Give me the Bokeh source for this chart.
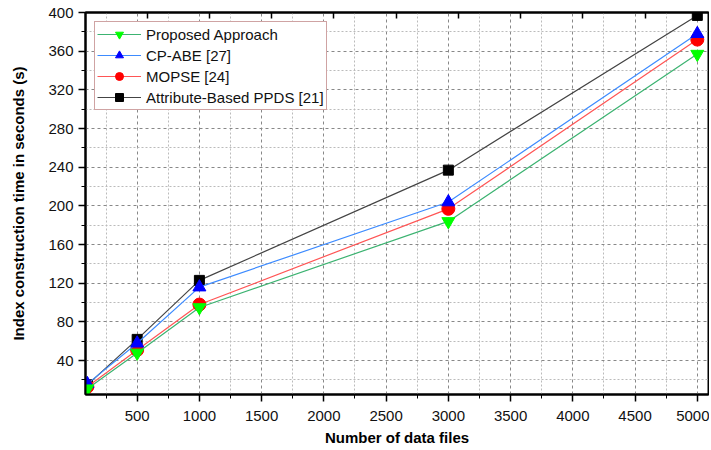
from bokeh.plotting import figure
from bokeh.models import (LinearAxis, FixedTicker, Legend, LegendItem, Range1d)
from bokeh.embed import file_html
from bokeh.resources import INLINE

files = [100, 500, 1000, 3000, 5000]
proposed = [11, 48, 95, 184, 357]
cpabe = [16, 58, 116, 204, 378]
mopse = [13, 51, 98, 197, 372]
ppds = [15, 62, 123, 237, 397]

x_ticks = [500, 1000, 1500, 2000, 2500, 3000, 3500, 4000, 4500, 5000]
x_minor = [250, 750, 1250, 1750, 2250, 2750, 3250, 3750, 4250, 4750]
y_ticks = [40, 80, 120, 160, 200, 240, 280, 320, 360, 400]
y_minor = [20, 60, 100, 140, 180, 220, 260, 300, 340, 380]
top_ticks = [580, 1080, 1580, 2080, 2580, 3080, 3580, 4080, 4580]

FONT = "Liberation Sans"

p = figure(width=709, height=448, output_backend="svg", toolbar_location=None,
           x_range=Range1d(85, 5090), y_range=Range1d(5, 400),
           min_border_left=85, min_border_right=1, min_border_top=12, min_border_bottom=50)
p.background_fill_color = "white"
p.outline_line_color = "black"
p.outline_line_width = 2

for ax in (p.xaxis[0], p.yaxis[0]):
    ax.axis_line_width = 2
    ax.axis_line_color = "black"
    ax.major_tick_line_color = "black"
    ax.major_tick_line_width = 1.5
    ax.minor_tick_line_color = "black"
    ax.major_tick_out = 7
    ax.major_tick_in = 0
    ax.minor_tick_out = 4
    ax.minor_tick_in = 0
    ax.major_label_text_font = FONT
    ax.major_label_text_font_size = "15px"
    ax.major_label_text_color = "#111111"
    ax.axis_label_text_font = FONT
    ax.axis_label_text_font_style = "bold"
    ax.axis_label_text_font_size = "15px"
    ax.axis_label_text_color = "black"

p.xaxis[0].ticker = FixedTicker(ticks=x_ticks, minor_ticks=x_minor)
p.yaxis[0].ticker = FixedTicker(ticks=y_ticks, minor_ticks=y_minor)
p.xaxis[0].axis_label = "Number of data files"
p.yaxis[0].axis_label = "Index construction time in seconds (s)"
p.xaxis[0].major_label_standoff = 9
p.xaxis[0].axis_label_standoff = 5
p.yaxis[0].major_label_standoff = 5
p.yaxis[0].axis_label_standoff = 18

top = LinearAxis(ticker=FixedTicker(ticks=top_ticks, minor_ticks=[]),
                 major_label_text_font_size="0px", axis_line_width=2,
                 major_tick_in=6, major_tick_out=0, minor_tick_in=0, minor_tick_out=0,
                 major_tick_line_width=1.5)
top.major_label_text_alpha = 0
top.major_label_standoff = 0
p.add_layout(top, "above")

p.xgrid[0].ticker = FixedTicker(ticks=x_ticks, minor_ticks=x_minor)
p.ygrid[0].ticker = FixedTicker(ticks=y_ticks, minor_ticks=y_minor)
for g in (p.xgrid[0], p.ygrid[0]):
    g.grid_line_color = "#888888"
    g.grid_line_dash = "3 3"
    g.grid_line_width = 1
    g.minor_grid_line_color = "#bbbbbb"
    g.minor_grid_line_dash = "2 2"
    g.minor_grid_line_width = 1

series = [
    ("Proposed Approach", proposed, "#3cb371", "#00ff00", "inverted_triangle"),
    ("CP-ABE [27]", cpabe, "#3d8bff", "#0000ff", "triangle"),
    ("MOPSE [24]", mopse, "#ff5555", "#ff0000", "circle"),
    ("Attribute-Based PPDS [21]", ppds, "#444444", "#000000", "square"),
]

renderers = {}
for name, ys, lc, mc, mk in reversed(series):
    l = p.line(files, ys, line_color=lc, line_width=1.2)
    m = p.scatter(files, ys, marker=mk, size=13 if mk != "square" else 10,
                  fill_color=mc, line_color=mc)
    renderers[name] = (l, m)
items = [LegendItem(label=name, renderers=list(renderers[name])) for name, *_ in series]

legend = Legend(items=items, location="top_left")
legend.border_line_color = "#a04848"
legend.border_line_width = 1.5
legend.background_fill_color = "white"
legend.background_fill_alpha = 1
legend.label_text_font = FONT
legend.label_text_font_size = "15px"
legend.label_text_color = "#111111"
legend.glyph_width = 44
legend.glyph_height = 20
legend.label_height = 20
legend.spacing = 1
legend.padding = 2
legend.margin = 9
legend.label_standoff = 5
p.add_layout(legend, "center")

open("out.html", "w").write(file_html(p, INLINE))
